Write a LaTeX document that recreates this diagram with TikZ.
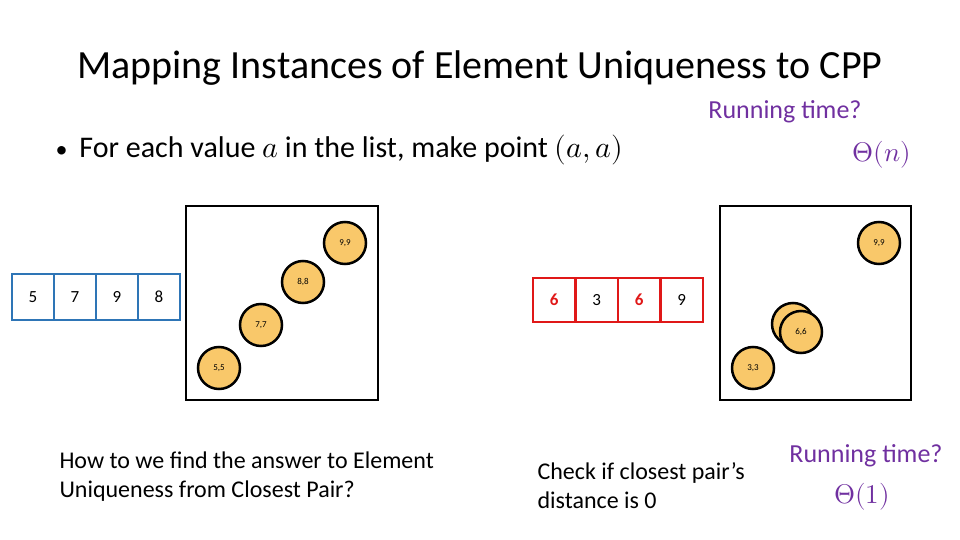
\documentclass[tikz,border=0pt]{standalone}
\usepackage{fontspec}
\setmainfont{Carlito}
\usepackage{unicode-math}
\definecolor{pur}{HTML}{7030A0}
\definecolor{blu}{HTML}{2E75B6}
\definecolor{rd}{HTML}{E01818}
\definecolor{dot}{HTML}{F9C86A}
\begin{document}
\begin{tikzpicture}[x=1pt,y=-1pt,
 cell/.style={draw,line width=2.5pt,minimum width=42pt,minimum height=46pt,inner sep=0,font=\fontsize{17}{17}\selectfont},
 pt/.style={circle,draw,line width=2.5pt,fill=dot,minimum size=42pt,inner sep=0,font=\fontsize{9}{9}\selectfont},
 sq/.style={draw,line width=2.5pt}]
\path[use as bounding box] (0,0) rectangle (960,540);
\node[font=\fontsize{40}{40}\selectfont] (title) at (480,68) {Mapping Instances of Element Uniqueness to CPP};
\node[text=pur,font=\fontsize{26}{26}\selectfont] (rt1) at (785,112) {Running time?};
\node[anchor=west,font=\fontsize{30}{30}\selectfont] (bul) at (52,150) {{\fontsize{24}{24}\selectfont•}\hspace{12pt}For each value $a$ in the list, make point $(a,a)$};
\node[text=pur,font=\fontsize{27}{27}\selectfont] (thn) at (882,155) {$\Theta(n)$};
% left array
\foreach \v [count=\i] in {5,7,9,8} \node[cell,draw=blu] (l\i) at ({12+42*(\i-0.5)},297) {\v};
\draw[sq] (186,206) rectangle (378,400);
\node[pt] (p9) at (345,243) {9,9};
\node[pt] (p8) at (303,282) {8,8};
\node[pt] (p7) at (261,325) {7,7};
\node[pt] (p5) at (219,368) {5,5};
% right array
\node[cell,draw=rd,text=rd,minimum width=42.5pt,minimum height=44pt] (r1) at (554.25,300) {\textbf{6}};
\node[cell,draw=rd,minimum width=42.5pt,minimum height=44pt] (r2) at (596.75,300) {3};
\node[cell,draw=rd,text=rd,minimum width=42.5pt,minimum height=44pt] (r3) at (639.25,300) {\textbf{6}};
\node[cell,draw=rd,minimum width=42.5pt,minimum height=44pt] (r4) at (681.75,300) {9};
\draw[sq] (720,206) rectangle (911,400);
\node[pt] (q9) at (879,243) {9,9};
\node[pt] (q6b) at (793,324) {};
\node[pt] (q6) at (801,332) {6,6};
\node[pt] (q3) at (753,368) {3,3};
% bottom texts
\node[anchor=north west,align=left,font=\fontsize{24}{29}\selectfont] (t1) at (56,448) {How to we find the answer to Element\\ Uniqueness from Closest Pair?};
\node[anchor=north west,align=left,font=\fontsize{24}{29}\selectfont] (t2) at (534,459) {Check if closest pair’s\\ distance is 0};
\node[text=pur,font=\fontsize{26}{26}\selectfont] (rt2) at (866,456) {Running time?};
\node[text=pur,font=\fontsize{27}{27}\selectfont] (th1) at (862,497) {$\Theta(1)$};
\end{tikzpicture}
\end{document}
